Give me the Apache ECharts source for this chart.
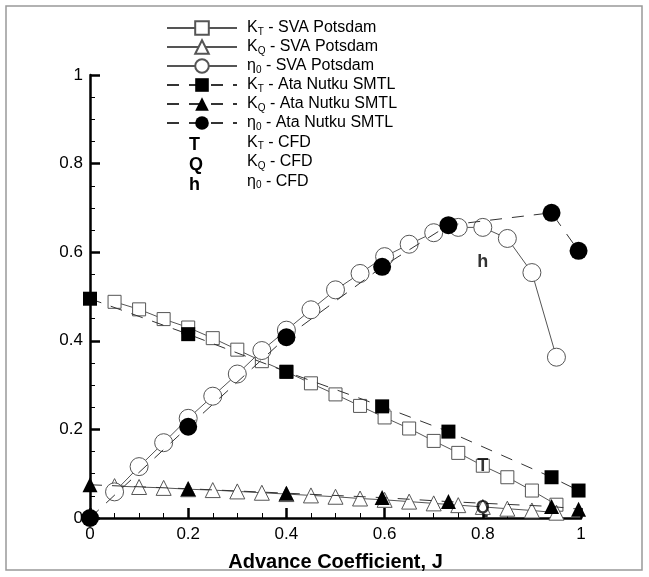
<!DOCTYPE html>
<html>
<head>
<meta charset="utf-8">
<script src="https://cdn.jsdelivr.net/npm/echarts@6/dist/echarts.min.js"></script>
<style>
  html, body { margin: 0; padding: 0; background: #fff; }
  #chart { width: 649px; height: 577px; }
</style>
</head>
<body>
<div id="chart"></div>
<script>
// SVA Potsdam open-water data
var jSva = [0.05, 0.1, 0.15, 0.2, 0.25, 0.3, 0.35, 0.4, 0.45, 0.5, 0.55, 0.6, 0.65, 0.7, 0.75, 0.8, 0.85, 0.9, 0.95];
var ktSva = [0.488, 0.471, 0.449, 0.430, 0.406, 0.380, 0.354, 0.330, 0.304, 0.279, 0.253, 0.227, 0.202, 0.174, 0.147, 0.118, 0.092, 0.062, 0.030];
var kqSva = [0.072, 0.070, 0.068, 0.065, 0.063, 0.060, 0.057, 0.054, 0.051, 0.048, 0.044, 0.041, 0.037, 0.033, 0.029, 0.025, 0.021, 0.017, 0.012];
var etaSva = [0.059, 0.116, 0.170, 0.225, 0.275, 0.325, 0.378, 0.424, 0.470, 0.515, 0.552, 0.590, 0.618, 0.644, 0.656, 0.656, 0.631, 0.554, 0.363];

// Ata Nutku SMTL
var jAta = [0, 0.2, 0.4, 0.595, 0.73, 0.94, 0.995];
var ktAta = [0.495, 0.415, 0.330, 0.252, 0.195, 0.092, 0.062];
var kqAta = [0.075, 0.066, 0.056, 0.046, 0.037, 0.026, 0.020];
var etaAta = [0, 0.206, 0.408, 0.567, 0.661, 0.689, 0.603];

// CFD
var jCfd = [0.8];
var ktCfd = [0.118];
var kqCfd = [0.022];
var etaCfd = [0.578];

var seriesNames = ['KT - SVA Potsdam', 'KQ - SVA Potsdam', 'eta - SVA Potsdam',
  'KT - Ata Nutku SMTL', 'KQ - Ata Nutku SMTL', 'eta - Ata Nutku SMTL',
  'KT - CFD', 'KQ - CFD', 'eta - CFD'];
var legendText = {
  'KT - SVA Potsdam': '{a|K}{s|T}{a| - SVA Potsdam}',
  'KQ - SVA Potsdam': '{a|K}{s|Q}{a| - SVA Potsdam}',
  'eta - SVA Potsdam': '{a|η}{s|0}{a| - SVA Potsdam}',
  'KT - Ata Nutku SMTL': '{a|K}{s|T}{a| - Ata Nutku SMTL}',
  'KQ - Ata Nutku SMTL': '{a|K}{s|Q}{a| - Ata Nutku SMTL}',
  'eta - Ata Nutku SMTL': '{a|η}{s|0}{a| - Ata Nutku SMTL}',
  'KT - CFD': '{a|K}{s|T}{a| - CFD}',
  'KQ - CFD': '{a|K}{s|Q}{a| - CFD}',
  'eta - CFD': '{a|η}{s|0}{a| - CFD}'
};

var FONT = '"Liberation Sans", Arial, Helvetica, sans-serif';

function pairs(xs, ys) {
  return xs.map(function(x, i) { return [x, ys[i]]; });
}

function svaSeries(name, ys, symbol, size) {
  return {
    name: name,
    type: 'line',
    data: pairs(jSva, ys),
    symbol: symbol,
    symbolSize: size,
    showAllSymbol: true,
    lineStyle: { color: '#555', width: 1 },
    itemStyle: { color: '#fff', borderColor: '#555', borderWidth: 1 },
    z: 2,
    animation: false
  };
}

function ataSeries(name, ys, symbol, size) {
  return {
    name: name,
    type: 'line',
    data: pairs(jAta, ys),
    symbol: symbol,
    symbolSize: size,
    showAllSymbol: true,
    lineStyle: { color: '#333', width: 1, type: [12, 10] },
    itemStyle: { color: '#000', borderColor: '#000', borderWidth: 0 },
    z: 3,
    animation: false
  };
}

function cfdSeries(name, ys, letter) {
  return {
    name: name,
    type: 'scatter',
    data: pairs(jCfd, ys),
    symbol: 'rect',
    symbolSize: 4,
    itemStyle: { color: 'rgba(0,0,0,0)' },
    label: {
      show: true,
      position: 'inside',
      formatter: letter,
      fontFamily: FONT,
      fontWeight: 'bold',
      fontSize: 18,
      color: '#000'
    },
    z: 4,
    animation: false
  };
}

var chart = echarts.init(document.getElementById('chart'));

var axisCommon = {
  type: 'value',
  min: 0,
  max: 1,
  interval: 0.2,
  axisLine: { show: true, lineStyle: { color: '#000', width: 2.5 } },
  axisTick: { show: true, inside: true, length: 10, lineStyle: { color: '#000', width: 2.5 } },
  minorTick: { show: true, splitNumber: 4, length: 5, lineStyle: { color: '#000', width: 1 } },
  splitLine: { show: false },
  axisLabel: {
    fontFamily: FONT,
    fontSize: 17,
    color: '#000',
    formatter: function(v) { return String(+v.toFixed(1)); }
  }
};

var legendLetters = ['T', 'Q', 'h'];

var option = {
  backgroundColor: '#fff',
  animation: false,
  grid: { left: 90, right: 68, top: 75, bottom: 59 },
  xAxis: Object.assign({}, axisCommon, {
    name: 'Advance Coefficient, J',
    nameLocation: 'middle',
    nameGap: 34,
    nameTextStyle: { fontFamily: FONT, fontSize: 20, fontWeight: 'bold', color: '#000' },
    axisLabel: Object.assign({}, axisCommon.axisLabel, { margin: 8 })
  }),
  yAxis: Object.assign({}, axisCommon, {
    axisLabel: Object.assign({}, axisCommon.axisLabel, { margin: 7 })
  }),
  legend: {
    orient: 'vertical',
    left: 161,
    top: 15,
    itemWidth: 70,
    itemHeight: 17,
    itemGap: 2,
    selectedMode: false,
    data: seriesNames,
    formatter: function(name) { return legendText[name]; },
    textStyle: {
      padding: [0, 0, 0, 5],
      rich: {
        a: { fontFamily: FONT, fontSize: 16, color: '#000', lineHeight: 18 },
        s: { fontFamily: FONT, fontSize: 10, color: '#000', lineHeight: 18, verticalAlign: 'bottom', padding: [7, 0, 0, 0] }
      }
    }
  },
  graphic: [
    { type: 'rect', shape: { x: 6, y: 6, width: 636, height: 564 }, style: { fill: 'none', stroke: '#999', lineWidth: 1.5 }, silent: true }
  ].concat(legendLetters.map(function(t, i) {
    return {
      type: 'text',
      left: 189,
      top: 136 + i * 19.8,
      style: { text: t, fontFamily: FONT, fontWeight: 'bold', fontSize: 18, fill: '#000' }
    };
  })),
  series: [
    svaSeries(seriesNames[0], ktSva, 'rect', 13),
    svaSeries(seriesNames[1], kqSva, 'triangle', 15),
    svaSeries(seriesNames[2], etaSva, 'circle', 18),
    ataSeries(seriesNames[3], ktAta, 'rect', 14),
    ataSeries(seriesNames[4], kqAta, 'triangle', 15),
    ataSeries(seriesNames[5], etaAta, 'circle', 18),
    cfdSeries(seriesNames[6], ktCfd, 'T'),
    cfdSeries(seriesNames[7], kqCfd, 'Q'),
    cfdSeries(seriesNames[8], etaCfd, 'h')
  ]
};

chart.setOption(option);
</script>
</body>
</html>
